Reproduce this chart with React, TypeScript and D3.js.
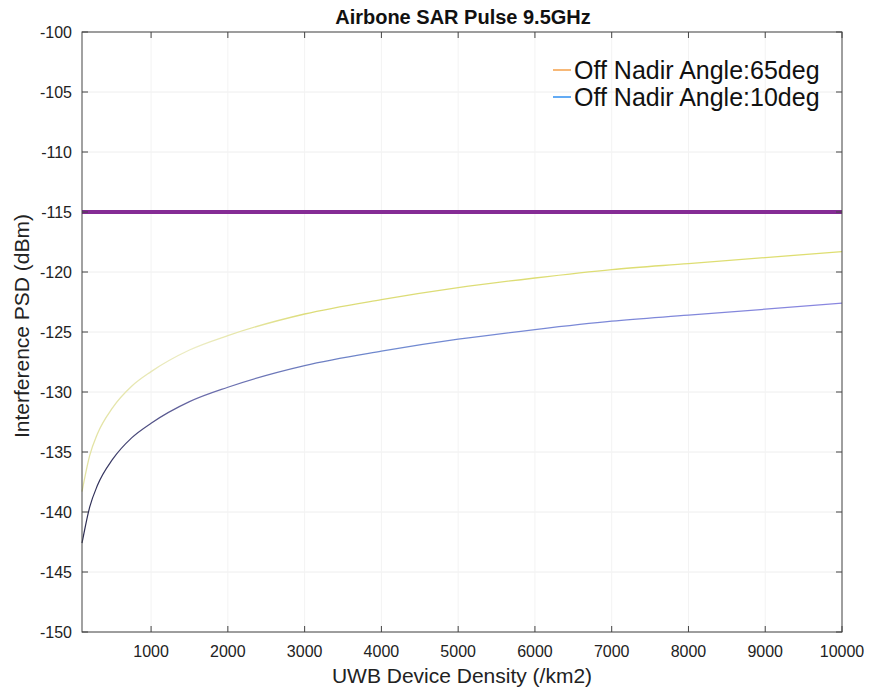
import React from "react";
import * as d3 from "d3";

const densities = [100, 200, 300, 500, 750, 1000, 1500, 2000, 3000, 4000, 5000, 6000, 7000, 8000, 9000, 10000];
const psd65 = [-138.3, -135.3, -133.5, -131.3, -129.5, -128.3, -126.5, -125.3, -123.5, -122.3, -121.3, -120.5, -119.8, -119.3, -118.8, -118.3];
const psd10 = [-142.6, -139.6, -137.8, -135.6, -133.8, -132.6, -130.8, -129.6, -127.8, -126.6, -125.6, -124.8, -124.1, -123.6, -123.1, -122.6];
const thresholdValue = -115;
const xTicks = [1000, 2000, 3000, 4000, 5000, 6000, 7000, 8000, 9000, 10000];
const yTicks = [-150, -145, -140, -135, -130, -125, -120, -115, -110, -105, -100];
const legendLabels = ["Off Nadir Angle:65deg", "Off Nadir Angle:10deg"];
const legendColors = ["#f5a04a", "#2f8ff0"];

const W = 872;
const H = 695;
const M = { left: 82, right: 842, top: 32, bottom: 632 };
const FONT = "'Liberation Sans', Arial, Helvetica, sans-serif";

export default function App() {
  const x = d3.scaleLinear().domain([100, 10000]).range([M.left, M.right]);
  const y = d3.scaleLinear().domain([-150, -100]).range([M.bottom, M.top]);
  const line = d3
    .line<[number, number]>()
    .x((d) => x(d[0]))
    .y((d) => y(d[1]))
    .curve(d3.curveMonotoneX);
  const d65 = line(densities.map((v, i) => [v, psd65[i]] as [number, number])) || "";
  const d10 = line(densities.map((v, i) => [v, psd10[i]] as [number, number])) || "";
  const tick = 6;
  return (
    <svg width={W} height={H} style={{ position: "absolute", left: 0, top: 0, background: "#fff" }}>
      <defs>
        <linearGradient id="g65" gradientUnits="userSpaceOnUse" x1={M.left} y1={0} x2={M.right} y2={0}>
          <stop offset="0" stopColor="#e2e2a0" />
          <stop offset="0.15" stopColor="#ececc4" />
          <stop offset="0.3" stopColor="#dcdc78" />
          <stop offset="1" stopColor="#dede70" />
        </linearGradient>
        <linearGradient id="g10" gradientUnits="userSpaceOnUse" x1={M.left} y1={0} x2={M.right} y2={0}>
          <stop offset="0" stopColor="#2a2a50" />
          <stop offset="0.15" stopColor="#6a6aa8" />
          <stop offset="0.4" stopColor="#6f8ad0" />
          <stop offset="1" stopColor="#8a86e0" />
        </linearGradient>
      </defs>
      <rect x={0} y={0} width={W} height={H} fill="#fff" />
      {/* grid */}
      <g>
        {yTicks.map((t) => (
          <line key={"gy" + t} x1={M.left} x2={M.right} y1={y(t)} y2={y(t)} stroke="#eeeeee" strokeWidth={1} />
        ))}
        {xTicks.map((t) => (
          <line key={"gx" + t} x1={x(t)} x2={x(t)} y1={M.top} y2={M.bottom} stroke="#f3f3f3" strokeWidth={1} />
        ))}
      </g>
      {/* data */}
      <line x1={M.left} x2={M.right} y1={y(thresholdValue)} y2={y(thresholdValue)} stroke="#852c95" strokeWidth={4} />
      <path d={d65} fill="none" stroke="url(#g65)" strokeWidth={1.3} />
      <path d={d10} fill="none" stroke="url(#g10)" strokeWidth={1.2} />
      {/* box */}
      <rect x={M.left} y={M.top} width={M.right - M.left} height={M.bottom - M.top} fill="none" stroke="#444" strokeWidth={1} />
      {/* ticks */}
      {yTicks.map((t) => (
        <g key={"ty" + t}>
          <line x1={M.left} x2={M.left + tick} y1={y(t)} y2={y(t)} stroke="#444" />
          <line x1={M.right} x2={M.right - tick} y1={y(t)} y2={y(t)} stroke="#444" />
          <text x={M.left - 10} y={y(t)} dy="0.35em" textAnchor="end" fontFamily={FONT} fontSize={16} fill="#222">
            {t}
          </text>
        </g>
      ))}
      {xTicks.map((t) => (
        <g key={"tx" + t}>
          <line x1={x(t)} x2={x(t)} y1={M.bottom} y2={M.bottom - tick} stroke="#444" />
          <line x1={x(t)} x2={x(t)} y1={M.top} y2={M.top + tick} stroke="#444" />
          <text x={x(t)} y={M.bottom + 25} textAnchor="middle" fontFamily={FONT} fontSize={16} fill="#222">
            {t}
          </text>
        </g>
      ))}
      {/* labels */}
      <text x={463} y={24} textAnchor="middle" fontFamily={FONT} fontSize={20} fontWeight="bold" fill="#111">
        Airbone SAR Pulse 9.5GHz
      </text>
      <text x={462} y={683} textAnchor="middle" fontFamily={FONT} fontSize={21} fill="#222">
        UWB Device Density (/km2)
      </text>
      <text transform={`translate(29, ${(M.top + M.bottom) / 2 - 6}) rotate(-90)`} textAnchor="middle" fontFamily={FONT} fontSize={21} fill="#222">
        Interference PSD (dBm)
      </text>
      {/* legend */}
      {legendLabels.map((lab, i) => (
        <g key={lab}>
          <line x1={553} x2={571} y1={70 + i * 27} y2={70 + i * 27} stroke={legendColors[i]} strokeWidth={1.5} />
          <text x={574} y={79 + i * 27} fontFamily={FONT} fontSize={25} fill="#111">
            {lab}
          </text>
        </g>
      ))}
    </svg>
  );
}
